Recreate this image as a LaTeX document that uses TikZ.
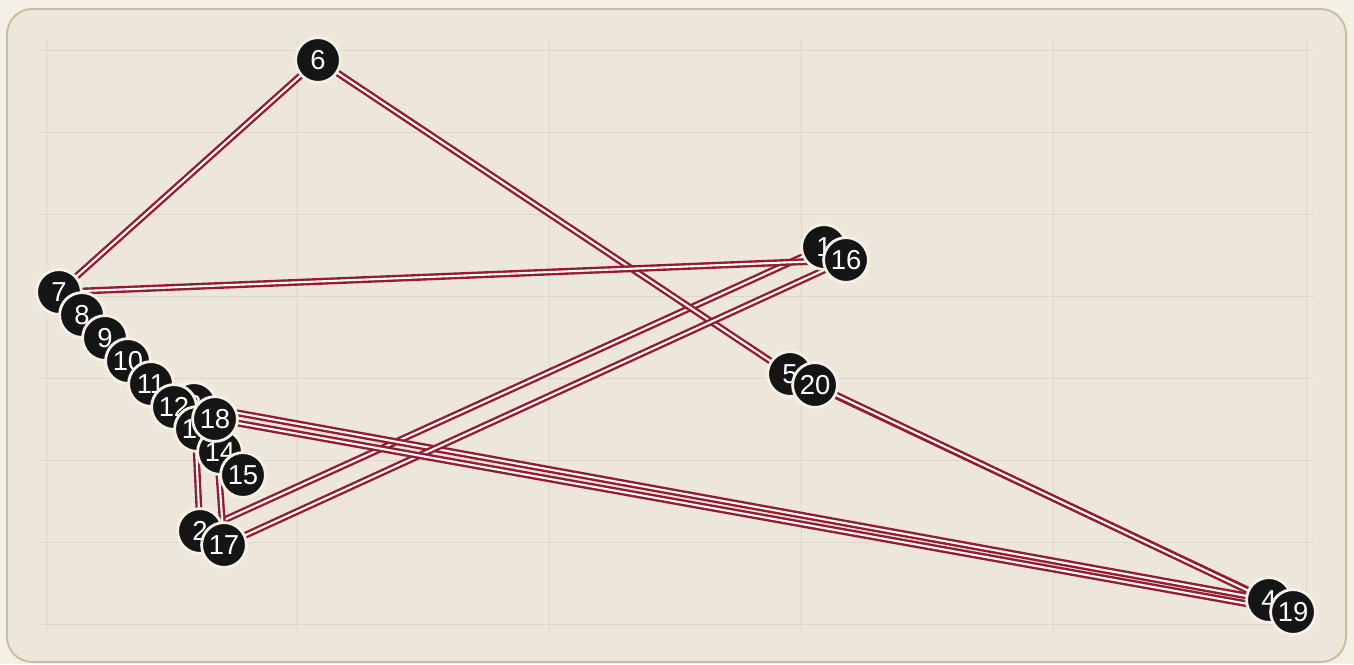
\documentclass[tikz,border=0pt]{standalone}
\usepackage{fontspec}
\setmainfont{Liberation Sans}
\usetikzlibrary{backgrounds}
\pgfdeclarelayer{edges}
\pgfsetlayers{background,edges,main}
\definecolor{rpage}{HTML}{F5F0E5}
\definecolor{rpanel}{HTML}{EDE6DA}
\definecolor{rframe}{HTML}{C9BEA3}
\definecolor{rgrid}{HTML}{DED6C8}
\definecolor{rwine}{HTML}{951B2F}
\definecolor{rink}{HTML}{151515}
\definecolor{rcream}{HTML}{F6F1E7}
\tikzset{
  panel/.style={fill=rpanel,draw=rframe,line width=1.4pt,rounded corners=18pt},
  gridln/.style={draw=rgrid,line width=0.7pt},
  route/.style={draw=rwine,line width=1.7pt,double=white,double distance=1.5pt},
  stop/.style={circle,fill=rink,draw=rcream,line width=2pt,minimum size=1.12cm,inner sep=0,text=white,font=\fontsize{19.5}{19.5}\selectfont},
}
\begin{document}
\begin{tikzpicture}[x=0.025cm,y=-0.025cm]
  % --- page and panel
  \begin{pgfonlayer}{background}
    \fill[rpage] (0,0) rectangle (1354,664);
    \path[panel] (7,9) rectangle (1346,662);
    \foreach \gx in {46,297,549,801,1053,1306}
      \draw[gridln] (\gx,40) -- (\gx,633);
    \foreach \gy in {50,132,214,296,378,460,542,624}
      \draw[gridln] (38,\gy) -- (1315,\gy);
  \end{pgfonlayer}
  \useasboundingbox (0,0) rectangle (1354,664);
  % --- stops
  \foreach \n/\px/\py in {1/824/247, 2/200/531, 3/194/405, 4/1269/600, 5/790/374, 6/318/60,
      7/59/292, 8/82/315, 9/105/338, 10/128/361, 11/151/384, 12/174/407, 13/197/429, 14/220/452, 15/243/475,
      16/846/260, 17/224/545, 18/215/419, 19/1293/612, 20/815/385} {
    \node[stop] (s\n) at (\px,\py) {\n};
  }
  % --- route
  \begin{pgfonlayer}{edges}
    \foreach \a/\b in {1/2, 2/3, 3/4, 4/5, 5/6, 6/7, 7/8, 8/9, 9/10, 10/11, 11/12, 12/13, 13/14, 14/15,
        7/16, 16/17, 17/18, 18/19, 19/20}
      \draw[route] (s\a.center) -- (s\b.center);
  \end{pgfonlayer}
\end{tikzpicture}
\end{document}
